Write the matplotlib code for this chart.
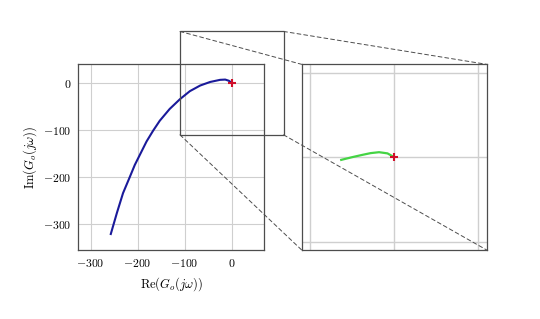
import matplotlib.pyplot as plt
from matplotlib.patches import Rectangle, ConnectionPatch

plt.rcParams['mathtext.fontset'] = 'cm'
plt.rcParams['font.family'] = 'serif'
plt.rcParams['font.serif'] = ['DejaVu Serif']

# Nyquist curve
re_vals = [-257, -244, -231, -218, -206, -193, -181, -167, -153, -132, -110,
           -89, -67, -46, -25, -14, -6, 0]
im_vals = [-321, -276, -234, -203, -174, -148, -124, -101, -80, -55, -34,
           -17, -5, 2.5, 7, 7.6, 5, 0]

# part shown in the zoomed view
zoom_re = [-63, -50, -38, -28, -18, -8, 0]
zoom_im = [-3.2, 0, 2.7, 4.8, 5.9, 4.5, 0]

x_ticks = [-300, -200, -100, 0]
y_ticks = [-300, -200, -100, 0]
zoom_box = (-110, 110, -110, 110)

frame_col = '#4d4d4d'
grid_col = '#cfcfcf'


def tick_text(v):
    return r'$%d$' % v


fig = plt.figure(figsize=(5.4, 3.19), dpi=100)
ax = fig.add_axes([0.145, 0.2163, 0.3444, 0.582])
axz = fig.add_axes([0.5587, 0.2163, 0.3426, 0.582])

# main plot
ax.plot(re_vals, im_vals, color='#1a1a9a', lw=1.5, zorder=3)
ax.plot([0], [0], marker='+', color='#d0102a', ms=6, mew=1.5, zorder=4)
ax.set_xlim(-326, 69)
ax.set_ylim(-355, 40)
ax.set_xticks(x_ticks)
ax.set_yticks(y_ticks)
ax.set_xticklabels([tick_text(v) for v in x_ticks])
ax.set_yticklabels([tick_text(v) for v in y_ticks])
ax.grid(True, color=grid_col, lw=0.8)
ax.tick_params(length=0, labelsize=8.5, pad=5)
for s in ax.spines.values():
    s.set_color(frame_col)
    s.set_linewidth(0.9)
ax.set_xlabel(r'$\mathrm{Re}(G_o(j\omega))$', fontsize=9, labelpad=4)
ax.set_ylabel(r'$\mathrm{Im}(G_o(j\omega))$', fontsize=9, labelpad=3)

# zoomed view
axz.plot(zoom_re, zoom_im, color='#44d444', lw=1.6, zorder=3)
axz.plot([0], [0], marker='+', color='#d0102a', ms=6, mew=1.5, zorder=4)
axz.set_xlim(zoom_box[0], zoom_box[1])
axz.set_ylim(zoom_box[2], zoom_box[3])
axz.set_xticks([-100, 0, 100])
axz.set_yticks([-100, 0, 100])
axz.set_xticklabels([])
axz.set_yticklabels([])
axz.grid(True, color=grid_col, lw=1.0)
axz.tick_params(length=0)
for s in axz.spines.values():
    s.set_color(frame_col)
    s.set_linewidth(0.9)

# rectangle showing zoom region
rect = Rectangle((zoom_box[0], zoom_box[2]), zoom_box[1] - zoom_box[0],
                 zoom_box[3] - zoom_box[2], fill=False, ec=frame_col,
                 lw=0.9, clip_on=False, zorder=5)
ax.add_patch(rect)

# dashed connectors between corresponding corners
corners = [((zoom_box[0], zoom_box[3]), (0, 1)),
           ((zoom_box[1], zoom_box[3]), (1, 1)),
           ((zoom_box[0], zoom_box[2]), (0, 0)),
           ((zoom_box[1], zoom_box[2]), (1, 0))]
for p_main, p_zoom in corners:
    con = ConnectionPatch(xyA=p_main, coordsA=ax.transData,
                          xyB=p_zoom, coordsB=axz.transAxes,
                          color=frame_col, lw=0.7, ls=(0, (4, 3)))
    fig.add_artist(con)

fig.savefig('out.png', dpi=100)
